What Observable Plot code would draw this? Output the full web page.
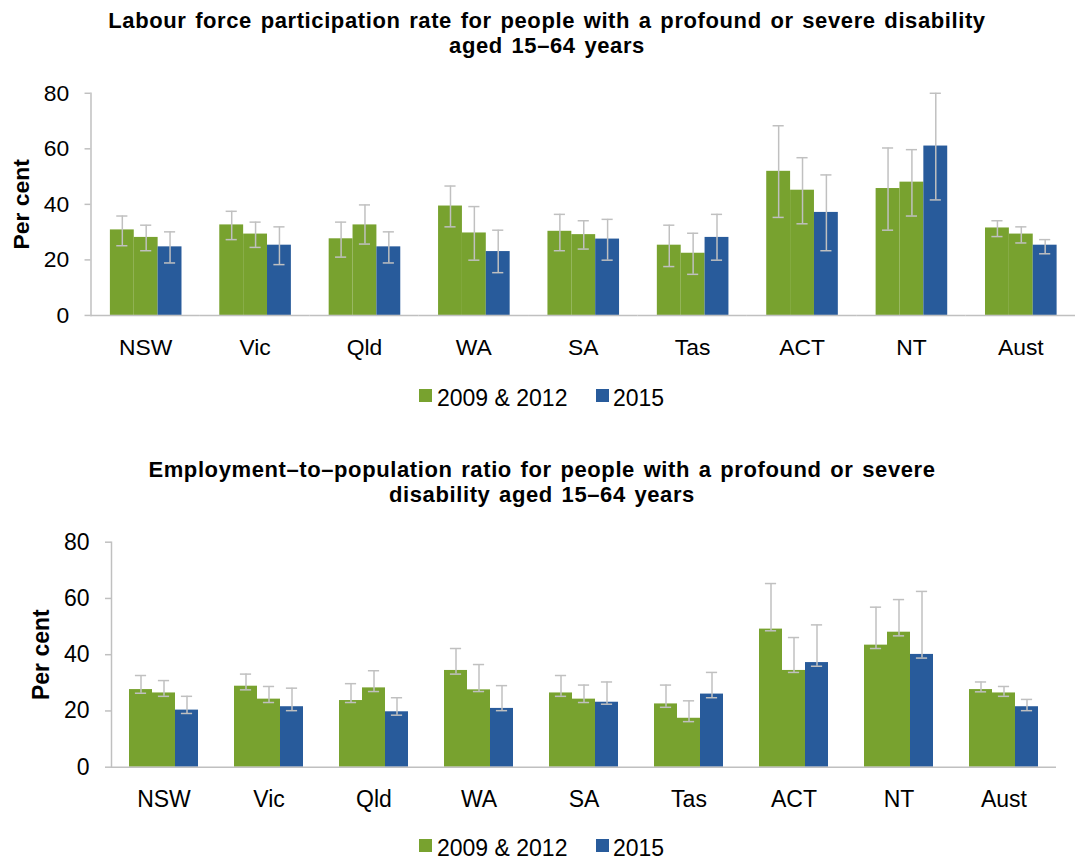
<!DOCTYPE html>
<html>
<head>
<meta charset="utf-8">
<script src="https://cdn.jsdelivr.net/npm/d3@7"></script>
<script src="https://cdn.jsdelivr.net/npm/@observablehq/plot@0.6"></script>
<style>
  html, body { margin: 0; padding: 0; background: #fff; }
  body { width: 1076px; height: 861px; overflow: hidden; position: relative;
         font-family: "Liberation Sans", Arial, sans-serif; color: #000; }
  .title { position: absolute; left: 0; text-align: center; font-weight: bold;
           font-size: 22px; line-height: 25px; white-space: nowrap;
           letter-spacing: 0.6px; word-spacing: 2px; }
  .chart { position: absolute; left: 0; }
  .legend { position: absolute; font-size: 23px; line-height: 23px; white-space: nowrap; }
  .sw { position: absolute; width: 13px; height: 13px; }
  [aria-label="y-axis label"] { font-weight: bold; }
</style>
</head>
<body>
<div class="title" id="t1" style="top:8px; width:1094px;">Labour force participation rate for people with a profound or severe disability<br>aged 15–64 years</div>
<div class="chart" id="c1" style="top:0px;"></div>
<div id="l1"></div>
<div class="title" id="t2" style="top:457px; width:1084px;">Employment–to–population ratio for people with a profound or severe<br>disability aged 15–64 years</div>
<div class="chart" id="c2" style="top:430px;"></div>
<div id="l2"></div>
<script>
// ---- Data ----
const states = ["NSW", "Vic", "Qld", "WA", "SA", "Tas", "ACT", "NT", "Aust"];
const seriesKeys = ["2009", "2012", "2015"];
const legendLabels = ["2009 & 2012", "2015"];
const yTicks = [0, 20, 40, 60, 80];

// Labour force participation rate (per cent)
const lfpr2009    = [30.8, 32.6, 27.6, 39.4, 30.3, 25.3, 51.9, 45.7, 31.5];
const lfpr2009Lo  = [25.1, 27.3, 21.0, 31.9, 23.3, 17.6, 35.3, 30.7, 28.4];
const lfpr2009Hi  = [35.8, 37.5, 33.6, 46.6, 36.4, 32.5, 68.3, 60.3, 34.1];
const lfpr2012    = [28.1, 29.3, 32.6, 29.7, 29.1, 22.4, 45.1, 48.0, 29.3];
const lfpr2012Lo  = [23.3, 24.5, 25.7, 19.9, 23.9, 14.8, 33.0, 35.8, 26.1];
const lfpr2012Hi  = [32.5, 33.6, 39.8, 39.2, 34.1, 29.6, 56.8, 59.7, 31.9];
const lfpr2015    = [24.7, 25.3, 24.7, 23.0, 27.5, 28.1, 37.1, 61.0, 25.3];
const lfpr2015Lo  = [18.9, 18.3, 18.9, 15.4, 19.9, 19.9, 23.3, 41.6, 22.2];
const lfpr2015Hi  = [30.1, 31.9, 30.1, 30.7, 34.6, 36.4, 50.6, 80.0, 27.3];

// Employment-to-population ratio (per cent)
const epr2009     = [27.6, 28.8, 23.7, 34.4, 26.4, 22.5, 49.1, 43.4, 27.6];
const epr2009Lo   = [26.3, 27.5, 23.0, 33.1, 25.2, 21.3, 48.5, 42.2, 26.8];
const epr2009Hi   = [32.6, 33.1, 29.7, 42.2, 32.6, 29.2, 65.3, 56.9, 30.3];
const epr2012     = [26.4, 24.2, 28.2, 27.5, 24.2, 17.4, 34.4, 48.0, 26.4];
const epr2012Lo   = [25.2, 23.0, 26.9, 26.9, 23.0, 16.2, 33.7, 46.7, 25.2];
const epr2012Hi   = [30.8, 28.7, 34.3, 36.5, 29.2, 23.6, 46.1, 59.6, 28.7];
const epr2015     = [20.3, 21.5, 19.7, 20.9, 23.1, 26.0, 37.2, 40.1, 21.5];
const epr2015Lo   = [19.1, 20.1, 18.5, 20.1, 22.4, 24.7, 35.9, 38.8, 20.1];
const epr2015Hi   = [25.2, 28.1, 24.7, 29.0, 30.3, 33.7, 50.6, 62.5, 24.1];

// ---- Styles ----
const GREEN = "#78a22f";
const BLUE = "#285b9b";
const GREY = "#c0c0c0";
const FONT = "'Liberation Sans', Arial, sans-serif";

function rowsFrom(sets) {
  const rows = [];
  sets.forEach(([key, v, lo, hi]) => {
    states.forEach((s, i) => rows.push({state: s, series: key, value: v[i], lo: lo[i], hi: hi[i]}));
  });
  return rows;
}

const lfprRows = rowsFrom([
  ["2009", lfpr2009, lfpr2009Lo, lfpr2009Hi],
  ["2012", lfpr2012, lfpr2012Lo, lfpr2012Hi],
  ["2015", lfpr2015, lfpr2015Lo, lfpr2015Hi]
]);
const eprRows = rowsFrom([
  ["2009", epr2009, epr2009Lo, epr2009Hi],
  ["2012", epr2012, epr2012Lo, epr2012Hi],
  ["2015", epr2015, epr2015Lo, epr2015Hi]
]);

function chart(rows, {width, marginLeft, marginRight, marginTop, marginBottom, height, outer, capInset}) {
  return Plot.plot({
    width, height, marginLeft, marginRight, marginTop, marginBottom,
    style: {fontSize: "23px", fontFamily: FONT, color: "#000", background: "transparent", overflow: "visible"},
    fx: {domain: states, padding: 0, label: null, tickSize: 0, tickPadding: 23, axis: "bottom"},
    x: {domain: seriesKeys, paddingInner: 0, paddingOuter: outer, axis: null},
    y: {domain: [0, 80], axis: null},
    color: {domain: seriesKeys, range: [GREEN, GREEN, BLUE]},
    marks: [
      Plot.barY(rows, {fx: "state", x: "series", y: "value", fill: "series"}),
      Plot.ruleY([0], {stroke: GREY, strokeWidth: 1.5}),
      Plot.frame({anchor: "left", facetAnchor: "left", stroke: GREY, strokeWidth: 1.5}),
      Plot.axisY({ticks: yTicks, tickSize: 6, tickPadding: 16, stroke: GREY, strokeWidth: 1.5,
                  label: "Per cent", labelArrow: "none", labelAnchor: "center", labelOffset: 79}),
      Plot.ruleX(rows, {fx: "state", x: "series", y1: "lo", y2: "hi", stroke: GREY, strokeWidth: 1.5}),
      Plot.tickY(rows, {fx: "state", x: "series", y: "lo", stroke: GREY, strokeWidth: 1.5, insetLeft: capInset, insetRight: capInset}),
      Plot.tickY(rows, {fx: "state", x: "series", y: "hi", stroke: GREY, strokeWidth: 1.5, insetLeft: capInset, insetRight: capInset})
    ]
  });
}

document.getElementById("c1").append(chart(lfprRows, {
  width: 1082, height: 380, marginLeft: 90.5, marginRight: 1.5,
  marginTop: 93.3, marginBottom: 63.3, outer: 0.72, capInset: 6.4
}));
document.getElementById("c2").append(chart(eprRows, {
  width: 1076, height: 380, marginLeft: 109, marginRight: 17.5,
  marginTop: 111.7, marginBottom: 43.3, outer: 0.71, capInset: 5.9
}));

function legend(el, top) {
  const items = [
    {label: legendLabels[0], color: GREEN, sw: 419, tx: 437},
    {label: legendLabels[1], color: BLUE, sw: 596, tx: 613}
  ];
  items.forEach(it => {
    const s = document.createElement("div");
    s.className = "sw";
    s.style.left = it.sw + "px";
    s.style.top = (top + 2) + "px";
    s.style.background = it.color;
    el.append(s);
    const t = document.createElement("div");
    t.className = "legend";
    t.style.left = it.tx + "px";
    t.style.top = top + "px";
    t.textContent = it.label;
    el.append(t);
  });
}
legend(document.getElementById("l1"), 387.4);
legend(document.getElementById("l2"), 837.4);
</script>
</body>
</html>
